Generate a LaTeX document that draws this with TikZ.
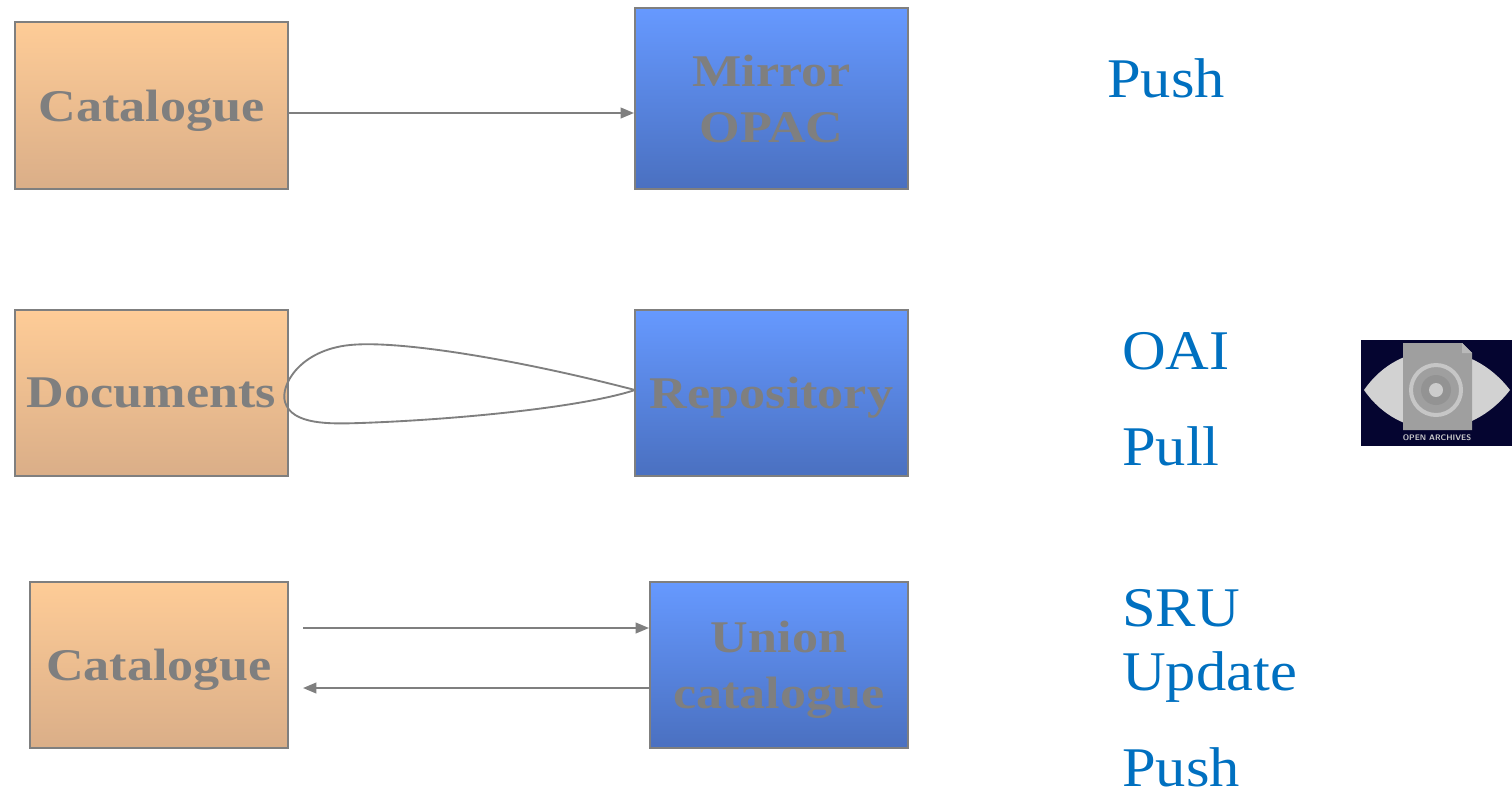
\documentclass[tikz,border=0pt]{standalone}
\usepackage{fontspec}
\setmainfont{Liberation Serif}
\newfontfamily\boxfont[FakeStretch=1.15]{Liberation Serif}
\newfontfamily\lblfont[FakeStretch=1.08]{Liberation Serif}
\usetikzlibrary{arrows.meta}
\definecolor{bordergray}{HTML}{7F7F7F}
\definecolor{orangetop}{HTML}{FECC97}
\definecolor{orangebot}{HTML}{DAAE88}
\definecolor{bluetop}{HTML}{6699FF}
\definecolor{bluebot}{HTML}{4A70C0}
\definecolor{labelblue}{HTML}{0070C0}
\definecolor{navy}{HTML}{050530}
\tikzset{
  obox/.style={draw=bordergray, line width=1.5pt, top color=orangetop, bottom color=orangebot, inner sep=0pt,
    font=\boxfont\fontsize{34}{36}\selectfont\bfseries, text=bordergray, align=center, text depth=0pt},
  bbox/.style={draw=bordergray, line width=1.5pt, top color=bluetop, bottom color=bluebot, inner sep=0pt,
    font=\boxfont\fontsize{34}{42}\selectfont\bfseries, text=bordergray, align=center, text depth=0pt},
  lbl/.style={font=\lblfont\fontsize{42}{48}\selectfont, text=labelblue, anchor=base west, inner sep=0pt},
  conn/.style={draw=bordergray, line width=1.4pt, -{Triangle[length=10pt,width=8pt]}},
}
\begin{document}
\begin{tikzpicture}[x=0.75pt,y=-0.75pt]
\useasboundingbox (0,0) rectangle (1512,790);
% boxes
\node[obox, minimum width=273*0.75pt, minimum height=167*0.75pt] (cat1) at (151.5,105.5) {Catalogue};
\node[bbox, minimum width=273*0.75pt, minimum height=181*0.75pt] (mir) at (771.5,98.5) {Mirror\\OPAC};
\node[obox, minimum width=273*0.75pt, minimum height=166*0.75pt] (doc) at (151.5,393) {Documents};
\node[bbox, minimum width=273*0.75pt, minimum height=166*0.75pt] (rep) at (771.5,393) {Repository};
\node[obox, minimum width=258*0.75pt, minimum height=166*0.75pt] (cat2) at (159,665) {Catalogue};
\node[bbox, minimum width=258*0.75pt, minimum height=166*0.75pt] (uni) at (779,665) {Union\\catalogue};
% connectors
\draw[conn] (cat1.east |- 0,113) -- (mir.west |- 0,113);
\coordinate (c2a) at (303,628);
\coordinate (c2b) at (303,688);
\draw[conn] (c2a) -- (uni.west |- c2a);
\draw[conn] (uni.west |- c2b) -- (c2b);
\coordinate (loopend) at (635,390);
\draw[draw=bordergray, line width=1.4pt] (loopend) .. controls (520,360) and (400,340) .. (350,345)
  .. controls (300,350) and (280,385) .. (285,402)
  .. controls (292,425) and (330,424) .. (360,423)
  .. controls (450,420) and (580,408) .. (loopend);
% labels
\node[lbl] (push1) at (1107,97) {Push};
\node[lbl] (oai) at (1122,369) {OAI};
\node[lbl] (pull) at (1122,465) {Pull};
\node[lbl] (sru) at (1122,626) {SRU};
\node[lbl] (upd) at (1122,690) {Update};
\node[lbl] (push2) at (1122,786) {Push};
% OAI logo
\fill[navy] (1361,340) rectangle (1512,446);
\fill[gray!35] (1364,390) .. controls (1400,338) and (1470,338) .. (1510,390)
  .. controls (1470,442) and (1400,442) .. (1364,390) -- cycle;
\fill[gray!75] (1403,343) -- (1462,343) -- (1472,353) -- (1472,430) -- (1403,430) -- cycle;
\fill[gray!55] (1462,343) -- (1462,353) -- (1472,353) -- cycle;
\draw[gray!45, line width=3pt] (1436,390) circle (25);
\fill[gray!85] (1436,390) circle (15);
\fill[gray!40] (1436,390) circle (7);
\node[font=\fontsize{6}{7}\selectfont\sffamily\bfseries, text=gray!40, inner sep=0pt] (oaitxt) at (1437,438) {OPEN ARCHIVES};
\end{tikzpicture}
\end{document}
